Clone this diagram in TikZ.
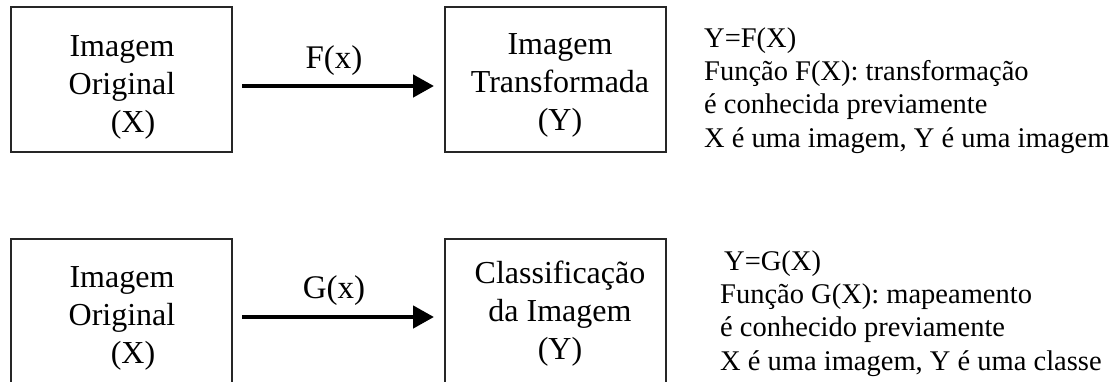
\documentclass[tikz,border=0pt]{standalone}
\usepackage{fontspec}
\setmainfont{Liberation Serif}
\usetikzlibrary{arrows.meta}
\begin{document}
\begin{tikzpicture}[x=1pt,y=-1pt,
  box/.style={draw=black!85,line width=1.3pt},
  boxtext/.style={anchor=base,align=center,inner sep=0pt,font=\fontsize{32}{38}\selectfont},
  lbl/.style={anchor=base,inner sep=0pt,font=\fontsize{33}{36}\selectfont},
  note/.style={anchor=base west,align=left,inner sep=0pt,font=\fontsize{28.5}{33.3}\selectfont},
  bigarrow/.style={line width=4.5pt,-{Triangle[length=21pt,width=22pt]}}
]
\useasboundingbox (0,0) rectangle (1119,381);
\begin{scope}
\clip (0,0) rectangle (1119,381);
% upper row
\draw[box] (11,7) rectangle (232,152);
\node[inner sep=0pt] (b1) at (121.5,79.5) {};
\draw[box] (445,7) rectangle (666,152);
\node[inner sep=0pt] (b2) at (555.5,79.5) {};
% lower row
\draw[box] (11,239) rectangle (232,390);
\node[inner sep=0pt] (b3) at (121.5,311.5) {};
\draw[box] (445,239) rectangle (666,390);
\node[inner sep=0pt] (b4) at (555.5,311.5) {};
\end{scope}

% anchor=base of a multi-line node is the baseline of its last line
\node[boxtext] (t1) at (122,132) {Imagem\\Original\\\hspace*{22pt}(X)};
\node[boxtext] (t2) at (560,130) {Imagem\\Transformada\\(Y)};
\node[boxtext] (t3) at (122,363) {Imagem\\Original\\\hspace*{22pt}(X)};
\node[boxtext] (t4) at (560,359) {Classificação\\da Imagem\\(Y)};

\coordinate (a1s) at (242,86);
\coordinate (a1e) at (434,86);
\coordinate (a2s) at (242,317);
\coordinate (a2e) at (434,317);
\draw[bigarrow] (a1s) -- (a1e);
\draw[bigarrow] (a2s) -- (a2e);
\node[lbl] (f) at (334,68) {F(x)};
\node[lbl] (g) at (334,298) {G(x)};

\node[note] (n1) at (704,147) {Y=F(X)\\Função F(X): transformação\\é conhecida previamente\\X é uma imagem, Y é uma imagem};
\node[note] (n2) at (720,370) {\hspace*{4pt}Y=G(X)\\Função G(X): mapeamento\\é conhecido previamente\\X é uma imagem, Y é uma classe};
\end{tikzpicture}
\end{document}
